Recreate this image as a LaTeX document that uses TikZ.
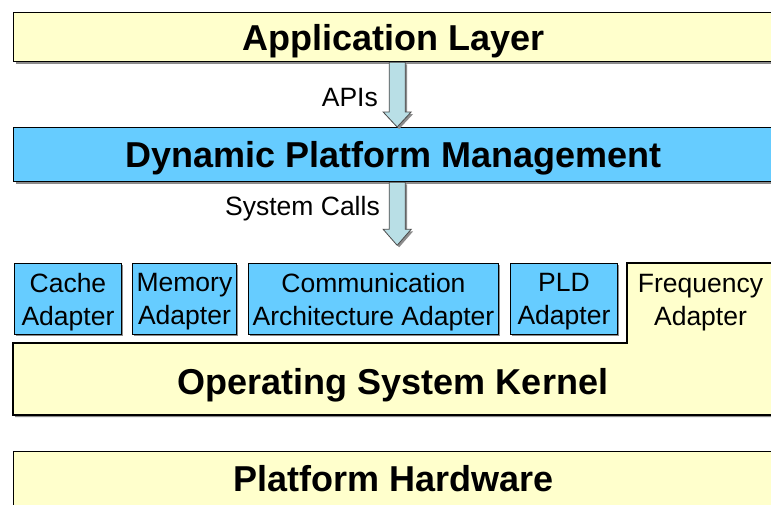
\documentclass[tikz,border=0pt]{standalone}
\usepackage{fontspec}
\setmainfont{Liberation Sans}
\usetikzlibrary{shadows,calc}
\definecolor{layeryellow}{HTML}{FFFFCC}
\definecolor{layerblue}{HTML}{66CCFF}
\definecolor{arrowfill}{HTML}{B9DFE6}
\begin{document}
\begin{tikzpicture}[x=1pt,y=-1pt,
  shad/.style={drop shadow={shadow xshift=2pt,shadow yshift=-2pt,fill=black!45,opacity=1}},
  layer/.style={draw=black,line width=1.3pt,shad,rectangle,inner sep=0pt,anchor=north west,
    text depth=0pt,font=\fontsize{36}{40}\selectfont\bfseries},
  ybox/.style={layer,fill=layeryellow},
  bbox/.style={layer,fill=layerblue},
  adapter/.style={draw=black,line width=0.9pt,fill=layerblue,shad,rectangle,inner sep=0pt,
    minimum height=71pt},
  adtext/.style={inner sep=0pt,align=center,font=\fontsize{26.5}{33}\selectfont},
  lbl/.style={inner sep=0pt,font=\fontsize{26.5}{33}\selectfont},
  blockarrow/.style={draw=black!70,line width=0.8pt,fill=arrowfill,shad}
]
\useasboundingbox (0,0) rectangle (771,504);
\clip (0,0) rectangle (771,504);
\fill[white] (0,0) rectangle (771,504);

\node[ybox,minimum width=760pt,minimum height=49pt] (app) at (13,12) {Application Layer};
\node[bbox,minimum width=760pt,minimum height=54pt] (dpm) at (13,127) {Dynamic Platform Management};

% arrow 1
\coordinate (t1) at ($(app.south)+(3.5,0)$);
\coordinate (h1) at (t1 |- dpm.north);
\draw[blockarrow] ($(t1)+(-8,0)$) -- ($(h1)+(-8,-15)$) -- ($(h1)+(-14,-15)$) -- (h1)
  -- ($(h1)+(14,-15)$) -- ($(h1)+(8,-15)$) -- ($(t1)+(8,0)$) -- cycle;
\node[lbl,anchor=east] (apis) at (378,98) {APIs};

% arrow 2
\coordinate (t2) at ($(dpm.south)+(3.5,0)$);
\coordinate (h2) at ($(t2)+(0,63)$);
\draw[blockarrow] ($(t2)+(-8,0)$) -- ($(h2)+(-8,-16)$) -- ($(h2)+(-14,-16)$) -- (h2)
  -- ($(h2)+(14,-16)$) -- ($(h2)+(8,-16)$) -- ($(t2)+(8,0)$) -- cycle;
\node[lbl,anchor=east] (syscalls) at (380,209) {System Calls};

% adapters
\node[adapter,anchor=north west,minimum width=107pt] (cache) at (14,263) {};
\node[adapter,anchor=north west,minimum width=104pt] (mem) at (132,263) {};
\node[adapter,anchor=north west,minimum width=250pt] (comm) at (248,263) {};
\node[adapter,anchor=north west,minimum width=107pt] (pld) at (510,263) {};
\node[adtext] (cachet) at ($(cache.center)+(0,3)$) {Cache\\Adapter};
\node[adtext] (memt) at ($(mem.center)+(0,3)$) {Memory\\Adapter};
\node[adtext] (commt) at ($(comm.center)+(0,3)$) {Communication\\Architecture Adapter};
\node[adtext] (pldt) at ($(pld.center)+(0,3)$) {PLD\\Adapter};

% kernel with frequency adapter
\draw[line width=1.3pt,fill=layeryellow,shad] (13,343) -- (627,343) -- (627,263) -- (775,263)
  -- (775,415) -- (13,415) -- cycle;
\node[adtext] (freq) at (700.5,302.5) {Frequency\\Adapter};
\node[inner sep=0pt,text depth=0pt,font=\fontsize{36}{40}\selectfont\bfseries] (kernel) at (393,381) {Operating System Kernel};

\node[ybox,minimum width=760pt,minimum height=54pt] (hw) at (13,451) {Platform Hardware};
\end{tikzpicture}
\end{document}
